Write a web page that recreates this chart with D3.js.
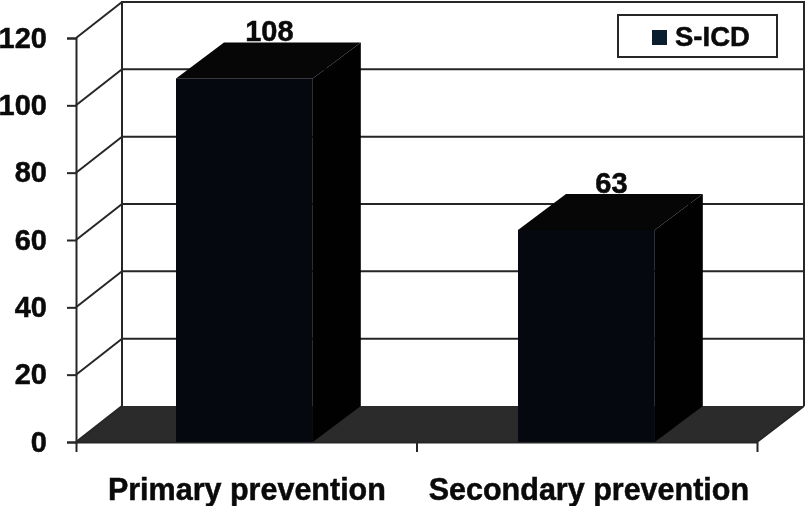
<!DOCTYPE html>
<html>
<head>
<meta charset="utf-8">
<script src="https://cdn.jsdelivr.net/npm/d3@7"></script>
<style>
  html, body { margin: 0; padding: 0; background: #fff; }
  text { font-family: "Liberation Sans", Arial, sans-serif; font-weight: bold; fill: #0a0a0a; stroke: #0a0a0a; stroke-width: 0.5px; }
</style>
</head>
<body>
<script>
const categories = ['Primary prevention', 'Secondary prevention'];
const values     = [108, 63];
const yTicks     = [0, 20, 40, 60, 80, 100, 120];
const seriesName = 'S-ICD';

const width  = 812;
const height = 506;
const left   = 76;
const right  = 757;
const bottom = 442;
const top3d  = 38;
const wallDx = 46;   // deslocamento da parede do fundo
const wallDy = 36;
const barDx  = 48;

const root = d3.select('body').append('svg')
    .attr('width', width)
    .attr('height', height)
    .style('display', 'block');

// A REFERENCIA EH UMA IMAGEM UM POUCO DESFOCADA
root.append('filter').attr('id', 'soft')
    .attr('color-interpolation-filters', 'sRGB')
    .append('feGaussianBlur').attr('stdDeviation', 0.5);

const svg = root.append('g').attr('filter', 'url(#soft)');

const y = d3.scaleLinear().domain([0, 120]).range([bottom, top3d]);
const x = d3.scaleBand().domain(categories)
    .range([73.4, 757.4])
    .paddingInner(0.6)
    .paddingOuter(0.3);
const xEdges = d3.scaleLinear().domain([0, 2]).range([left, right]);

const lineColor = '#262626';

// CHAO
svg.append('polygon')
    .attr('points', [[left, bottom], [left + wallDx, bottom - wallDy],
      [right + wallDx + 1, bottom - wallDy], [right, bottom]].join(' '))
    .attr('fill', '#2b2b2b');

// PAREDE DO FUNDO
svg.selectAll('.grid').data(yTicks.slice(1)).enter().append('line')
    .attr('class', 'grid')
    .attr('x1', left + wallDx).attr('x2', right + wallDx + 1)
    .attr('y1', d => y(d) - wallDy).attr('y2', d => y(d) - wallDy)
    .attr('stroke', lineColor).attr('stroke-width', 2);

svg.selectAll('.side').data(yTicks).enter().append('line')
    .attr('class', 'side')
    .attr('x1', left).attr('x2', left + wallDx)
    .attr('y1', d => y(d)).attr('y2', d => y(d) - wallDy)
    .attr('stroke', lineColor).attr('stroke-width', 2);

svg.selectAll('.wall').data([left + wallDx, right + wallDx + 1]).enter().append('line')
    .attr('class', 'wall')
    .attr('x1', d => d).attr('x2', d => d)
    .attr('y1', y(120) - wallDy - 1).attr('y2', bottom - wallDy)
    .attr('stroke', lineColor).attr('stroke-width', 2);

svg.append('line')
    .attr('x1', right).attr('x2', right + wallDx + 1)
    .attr('y1', bottom).attr('y2', bottom - wallDy)
    .attr('stroke', lineColor).attr('stroke-width', 2);

// EIXOS
const yAxis = svg.append('g')
    .attr('transform', 'translate(' + left + ',0)')
    .call(d3.axisLeft(y).tickValues(yTicks).tickSize(9).tickPadding(20));
yAxis.selectAll('path, line').attr('stroke', lineColor).attr('stroke-width', 2);
yAxis.selectAll('text')
    .style('font-size', '29px')
    .style('font-family', '"Liberation Sans", Arial, sans-serif')
    .style('font-weight', 'bold')
    .attr('dy', '.32em');

const xAxis = svg.append('g')
    .attr('transform', 'translate(0,' + bottom + ')')
    .call(d3.axisBottom(xEdges).tickValues([0, 1, 2]).tickFormat('').tickSize(10).tickSizeOuter(0));
xAxis.selectAll('path, line').attr('stroke', lineColor).attr('stroke-width', 2);

// BARRAS 3D
const bars = svg.selectAll('.bar')
    .data(categories.map((c, i) => ({c, v: values[i]})))
    .enter().append('g')
    .attr('class', 'bar');

bars.append('polygon')
    .attr('points', d => {
      const x1 = x(d.c) + x.bandwidth();
      return [[x1, y(d.v)], [x1 + barDx, y(d.v) - wallDy],
        [x1 + barDx, bottom - wallDy], [x1, bottom]].join(' ');
    })
    .attr('fill', '#010102');

bars.append('polygon')
    .attr('points', d => {
      const x0 = x(d.c);
      const x1 = x0 + x.bandwidth();
      return [[x0, y(d.v)], [x0 + barDx, y(d.v) - wallDy],
        [x1 + barDx, y(d.v) - wallDy], [x1, y(d.v)]].join(' ');
    })
    .attr('fill', '#060606');

bars.append('rect')
    .attr('x', d => x(d.c))
    .attr('y', d => y(d.v))
    .attr('width', x.bandwidth())
    .attr('height', d => bottom - y(d.v))
    .attr('fill', '#05080f');

bars.append('text')
    .attr('x', d => x(d.c) + x.bandwidth() / 2 + 25)
    .attr('y', d => y(d.v) - wallDy - 1)
    .attr('text-anchor', 'middle')
    .style('font-size', '29px')
    .text(d => d.v);

// ROTULOS DAS CATEGORIAS
svg.selectAll('.cat').data(categories).enter().append('text')
    .attr('class', 'cat')
    .attr('x', d => x(d) + x.bandwidth() / 2 + 2.5)
    .attr('y', 500)
    .attr('text-anchor', 'middle')
    .style('font-size', '30.5px')
    .text(d => d);

// LEGENDA
const legend = svg.append('g').attr('transform', 'translate(618,15)');
legend.append('rect')
    .attr('width', 159).attr('height', 42)
    .attr('fill', '#fff').attr('stroke', lineColor).attr('stroke-width', 2);
legend.append('rect')
    .attr('x', 34).attr('y', 15).attr('width', 15).attr('height', 15)
    .attr('fill', '#0a1e2e');
legend.append('text')
    .attr('x', 57).attr('y', 31)
    .style('font-size', '27.5px')
    .text(seriesName);
</script>
</body>
</html>
